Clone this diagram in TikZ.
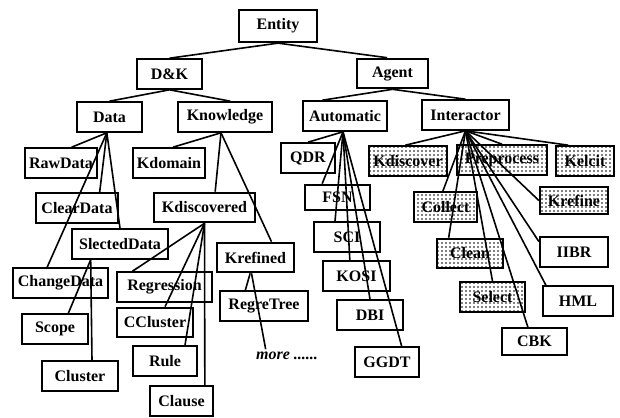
\documentclass[tikz,border=0pt]{standalone}
\usepackage{fontspec}
\setmainfont{Liberation Serif}
\usetikzlibrary{patterns}
\pgfdeclarepatternformonly{bigdots}{\pgfpoint{-1pt}{-1pt}}{\pgfpoint{4pt}{4pt}}{\pgfpoint{3pt}{3pt}}{%
  \pgfpathcircle{\pgfpoint{1.5pt}{1.5pt}}{0.6pt}\pgfusepath{fill}}

\begin{document}
\begin{tikzpicture}[x=0.75pt,y=-0.75pt,inner sep=0pt]
\tikzstyle{main}=[rectangle, minimum height=22pt, line width=1.7pt, draw=black, font=\fontsize{12}{14}\selectfont\bfseries]
\tikzstyle{dotbox}=[main, pattern=bigdots, pattern color=black]
\tikzstyle{connect}=[line width=1.2pt]
\useasboundingbox (0,0) rectangle (620,417);
% top levels
\node[main,minimum width=58.5pt,minimum height=24pt] (ent) at (278,26) {Entity};
\node[main,minimum width=49pt] (dk) at (169.5,74) {D\&K};
\node[main,minimum width=53pt] (agt) at (392.5,73.5) {Agent};
\node[main,minimum width=49pt] (data) at (109.5,117) {Data};
\node[main,minimum width=70.5pt] (know) at (225,117) {Knowledge};
\node[main,minimum width=63pt] (auto) at (345,116) {Automatic};
\node[main,minimum width=65pt] (inter) at (465.5,115) {Interactor};
% data and knowledge side
\node[main,minimum width=54pt] (raw) at (61,163) {RawData};
\node[main,minimum width=54pt] (kdom) at (169,163) {Kdomain};
\node[main,minimum width=62pt] (clr) at (77,208) {ClearData};
\node[main,minimum width=76pt] (kdis) at (204.5,207.5) {Kdiscovered};
\node[main,minimum width=72pt] (sel) at (120,244) {SlectedData};
\node[main,minimum width=58pt] (kref) at (255.5,257.5) {Krefined};
\node[main,minimum width=71pt] (chg) at (60.5,283) {ChangeData};
\node[main,minimum width=71pt] (regr) at (164.5,287) {Regression};
\node[main,minimum width=66pt] (rtree) at (264,306) {RegreTree};
\node[main,minimum width=49.5pt] (scope) at (55,329) {Scope};
\node[main,minimum width=57pt] (ccl) at (155,322.5) {CCluster};
\node[main,minimum width=48pt] (rule) at (165,361) {Rule};
\node[main,minimum width=57pt] (clus) at (80,376) {Cluster};
\node[main,minimum width=47pt] (clause) at (181.5,401) {Clause};
\node[font=\fontsize{12}{14}\selectfont\bfseries\itshape,inner sep=2pt] (more) at (287,356) {more ......};
% agent side
\node[main,minimum width=40pt] (qdr) at (308,158) {QDR};
\node[main,minimum width=49pt,minimum height=19pt] (fsn) at (337.5,197.5) {FSN};
\node[main,minimum width=49.5pt] (sci) at (347,237) {SCI};
\node[main,minimum width=50pt] (kosi) at (356.5,276) {KOSI};
\node[main,minimum width=49.5pt] (dbi) at (370,315) {DBI};
\node[main,minimum width=48pt] (ggdt) at (387,362) {GGDT};
\node[dotbox,minimum width=58.5pt] (kdisc) at (408,161) {Kdiscover};
\node[dotbox,minimum width=67.5pt] (prep) at (502,160) {Preprocess};
\node[dotbox,minimum width=43.5pt] (kel) at (585,161) {Kelcit};
\node[dotbox,minimum width=47pt] (coll) at (445.5,207) {Collect};
\node[dotbox,minimum width=51pt,minimum height=20pt] (krefn) at (574,200.5) {Krefine};
\node[dotbox,minimum width=49.5pt] (clean) at (470,253.5) {Clean};
\node[dotbox,minimum width=49pt] (slct) at (492.5,297) {Select};
\node[main,minimum width=51pt] (iibr) at (574,252) {IIBR};
\node[main,minimum width=52.5pt] (hml) at (578,301) {HML};
\node[main,minimum width=49pt,minimum height=20pt] (cbk) at (534.5,341.5) {CBK};
% connectors
\path (ent.south) edge[connect] (dk.north) edge[connect] ([xshift=-4pt]agt.north);
\path (dk.south) edge[connect] (data.north) edge[connect] ([xshift=4pt]know.north);
\path (agt.south) edge[connect] ([xshift=-17pt]auto.north) edge[connect] (inter.north);
\path ([xshift=-2pt]data.south) edge[connect] ([xshift=8pt]raw.north) edge[connect] ([xshift=-10pt]chg.north)
  edge[connect] ([xshift=17pt]clr.north) edge[connect] (sel.north);
\path ([xshift=-22pt]sel.south) edge[connect] ([xshift=10pt]scope.north) edge[connect] ([xshift=9pt]clus.north);
\path ([xshift=-3pt]know.south) edge[connect] ([xshift=3pt]kdom.north) edge[connect] ([xshift=8pt]kdis.north)
  edge[connect] ([xshift=12pt]kref.north);
\path (kdis.south) edge[connect] ([xshift=-24pt]regr.north) edge[connect] ([xshift=7.5pt]ccl.north)
  edge[connect] ([xshift=15pt]rule.north) edge[connect] ([xshift=17.5pt]clause.north);
\path ([xshift=-4pt]kref.south) edge[connect] ([xshift=-14pt]rtree.north);
\path ([xshift=-3pt]kref.south) edge[connect] ([xshift=-16pt]more.north);
\path ([xshift=-1.5pt]auto.south) edge[connect] (qdr.north) edge[connect] ([xshift=-11.5pt]fsn.north)
  edge[connect] ([xshift=-9pt]sci.north) edge[connect] ([xshift=-5pt]kosi.north)
  edge[connect] (dbi.north) edge[connect] ([xshift=11pt]ggdt.north);
\path (inter.south) edge[connect] ([xshift=-2pt]kdisc.north) edge[connect] (prep.north)
  edge[connect] ([xshift=-12.5pt]kel.north) edge[connect] ([xshift=-2pt]coll.north)
  edge[connect] ([xshift=-16pt]clean.north) edge[connect] (slct.north)
  edge[connect] ([xshift=-5pt]cbk.north) edge[connect] (krefn.west)
  edge[connect] ([yshift=-4pt]iibr.north west) edge[connect] ([xshift=3pt]hml.north west);
\end{tikzpicture}
\end{document}
